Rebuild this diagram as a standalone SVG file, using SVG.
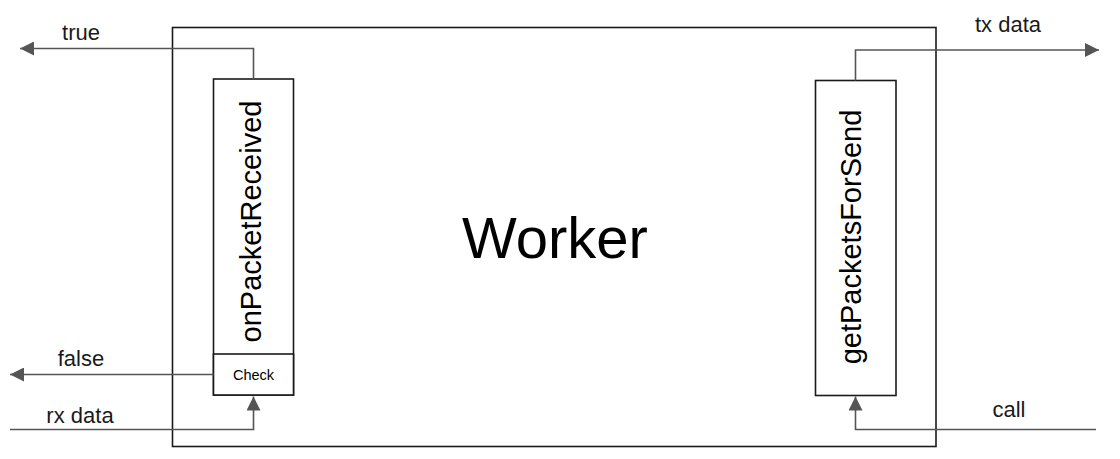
<svg xmlns="http://www.w3.org/2000/svg" width="1120" height="459" viewBox="0 0 1120 459">
<style>
.box{fill:#ffffff;stroke:#1a1a1a;stroke-width:1.6}
.edge{fill:none;stroke:#555555;stroke-width:1.6}
.lbl{font-family:"Liberation Sans",Arial,sans-serif;font-size:22px;fill:#1a1a1a;text-anchor:middle}
.big{font-family:"Liberation Sans",Arial,sans-serif;fill:#000000;text-anchor:middle}
</style>
<defs>
<marker id="arr" viewBox="0 0 14 14" refX="14" refY="7" markerWidth="14" markerHeight="14" markerUnits="userSpaceOnUse" orient="auto">
<path d="M0,0 L14,7 L0,14 Z" fill="#555555"/>
</marker>
</defs>
<rect width="1120" height="459" fill="#ffffff"/>
<g id="worker">
<rect class="box" x="172.5" y="27.5" width="763.5" height="419"/>
<text class="big" x="555" y="258" font-size="58">Worker</text>
</g>
<g id="onPacketReceived">
<rect class="box" x="213.5" y="79" width="80" height="316"/>
<text class="big" font-size="29" transform="translate(261,221.5) rotate(-90)">onPacketReceived</text>
</g>
<g id="check">
<rect class="box" x="213.5" y="354" width="80" height="41"/>
<text class="big" x="253.5" y="379.5" font-size="14.5">Check</text>
</g>
<g id="getPacketsForSend">
<rect class="box" x="815.5" y="80.5" width="80.5" height="315"/>
<text class="big" font-size="29" transform="translate(861,237) rotate(-90)">getPacketsForSend</text>
</g>
<g id="connectors">
<polyline class="edge" points="253.5,79 253.5,48.5 20,48.5" marker-end="url(#arr)"/>
<polyline class="edge" points="213.5,374.5 10,374.5" marker-end="url(#arr)"/>
<polyline class="edge" points="10,429.5 253.5,429.5 253.5,396.5" marker-end="url(#arr)"/>
<polyline class="edge" points="855.5,80.5 855.5,50 1099,50" marker-end="url(#arr)"/>
<polyline class="edge" points="1096,429.5 855.5,429.5 855.5,396.5" marker-end="url(#arr)"/>
<text class="lbl" x="81" y="40">true</text>
<text class="lbl" x="81" y="366">false</text>
<text class="lbl" x="80" y="423">rx data</text>
<text class="lbl" x="1008" y="32">tx data</text>
<text class="lbl" x="1009" y="417">call</text>
</g>
</svg>
